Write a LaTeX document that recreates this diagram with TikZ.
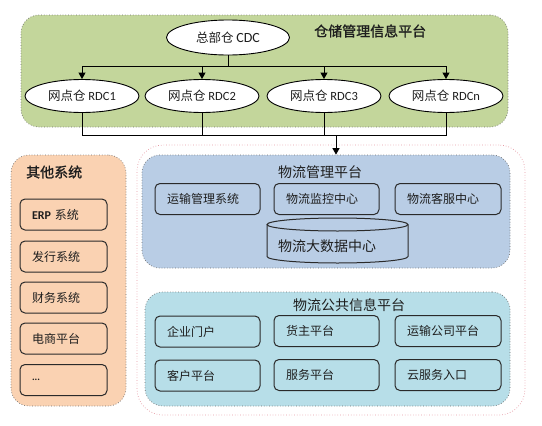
\documentclass[tikz,border=0pt]{standalone}
\usepackage{fontspec}
\setmainfont{Carlito}
\newfontfamily\cjk{Noto Sans CJK SC}
\newfontfamily\cjkb{Noto Sans CJK SC}[FakeBold=1.2]
\newfontfamily\lat{Carlito}
\usetikzlibrary{shapes.geometric,arrows.meta}
\definecolor{gfill}{HTML}{C3D69B}
\definecolor{ofill}{HTML}{FAD2B2}
\definecolor{bfill}{HTML}{B9CDE5}
\definecolor{lbfill}{HTML}{B7DEE8}
\definecolor{pinkline}{HTML}{E59AA4}
\definecolor{frameline}{HTML}{6E6E6E}
\definecolor{boxline}{HTML}{2A2A2A}
\definecolor{txt}{HTML}{1E1E1E}
\begin{document}
\begin{tikzpicture}[x=1pt,y=-1pt,
  container/.style={draw=frameline, dotted, line width=0.7pt, rounded corners=18pt, inner sep=0pt},
  sub/.style={draw=boxline, line width=1pt, rounded corners=5pt, minimum height=31pt,
    inner xsep=12pt, inner ysep=0pt, align=left, text=txt,
    font=\cjk\fontsize{12}{14}\selectfont},
  oval/.style={ellipse, draw=black, fill=white, line width=0.9pt, inner sep=0pt, text=txt,
    font=\cjk\fontsize{12.5}{14}\selectfont},
  ptitle/.style={inner sep=0pt, text=txt, font=\cjk\fontsize{14}{16}\selectfont},
  btitle/.style={inner sep=0pt, text=txt, font=\cjkb\fontsize{14}{16}\selectfont},
  conn/.style={draw=black, line width=0.9pt},
  arr/.style={conn, -{Triangle[length=6.5pt,width=7pt]}}
]
\useasboundingbox (0,0) rectangle (542,426);

% warehouse platform
\node[container, fill=gfill, minimum width=487pt, minimum height=112pt] (wms) at (264.5,71) {};
\node[btitle, anchor=west] (wmstitle) at (314,31) {仓储管理信息平台};
\node[oval, minimum width=123pt, minimum height=35pt] (cdc) at (228,37.5) {总部仓 {\lat\fontsize{14}{16}\selectfont CDC}};
\node[oval, minimum width=114pt, minimum height=33pt] (r1) at (82,96) {网点仓 {\lat RDC1}};
\node[oval, minimum width=114pt, minimum height=33pt] (r2) at (202,96) {网点仓 {\lat RDC2}};
\node[oval, minimum width=114pt, minimum height=33pt] (r3) at (324,96) {网点仓 {\lat RDC3}};
\node[oval, minimum width=114pt, minimum height=33pt] (rn) at (446,96) {网点仓 {\lat RDCn}};

% other systems
\node[container, fill=ofill, minimum width=115pt, minimum height=251pt] (other) at (68.5,280.5) {};
\node[btitle, anchor=west] (othertitle) at (26,172) {其他系统};
\node[sub, text width=63pt] (erp) at (63.5,214.5) {{\lat\bfseries ERP} 系统};
\node[sub, text width=63pt] (fx) at (63.5,256.5) {发行系统};
\node[sub, text width=63pt] (cw) at (63.5,297.5) {财务系统};
\node[sub, text width=63pt] (ds) at (63.5,338.5) {电商平台};
\node[sub, text width=63pt] (more) at (63.5,380) {{\lat\bfseries\fontsize{10}{12}\selectfont ...}};

% logistics area
\node[draw=pinkline, dotted, line width=0.7pt, rounded corners=26pt, inner sep=0pt,
  minimum width=388pt, minimum height=270pt] (area) at (331,280) {};

\node[container, fill=bfill, minimum width=368pt, minimum height=113pt] (mgmt) at (326,211.5) {};
\node[ptitle] (mgmttitle) at (320,172) {物流管理平台};
\node[sub, text width=81pt] (ys) at (207.5,199) {运输管理系统};
\node[sub, text width=81pt] (jk) at (326.5,199) {物流监控中心};
\node[sub, text width=82pt] (kf) at (448,199) {物流客服中心};
% cylinder
\fill[bfill] (267,224.5) -- (267,256.5) arc[start angle=180, end angle=0, x radius=70.5, y radius=6.5] -- (408,224.5) -- cycle;
\draw[boxline, line width=1pt] (267,224.5) -- (267,256.5) arc[start angle=180, end angle=0, x radius=70.5, y radius=6.5] -- (408,224.5);
\draw[boxline, line width=1pt] (337.5,224.5) ellipse[x radius=70.5, y radius=6.5];
\node[ptitle, anchor=west] (bigdata) at (278,246) {物流大数据中心};

\node[container, fill=lbfill, minimum width=365pt, minimum height=114pt] (pub) at (327.5,349) {};
\node[ptitle] (pubtitle) at (349,305) {物流公共信息平台};
\node[sub, text width=81pt] (qy) at (207.5,331.5) {企业门户};
\node[sub, text width=81pt] (hz) at (326.5,331) {货主平台};
\node[sub, text width=82pt] (gs) at (448,331) {运输公司平台};
\node[sub, text width=81pt] (kh) at (207.5,375.5) {客户平台};
\node[sub, text width=81pt] (fw) at (326.5,375) {服务平台};
\node[sub, text width=82pt] (yfw) at (448,375) {云服务入口};

% connectors
\coordinate (hub1) at (228,66);
\coordinate (hub2) at (336,135);
\draw[conn] (cdc.south) -- (hub1);
\draw[conn] (r1.north |- hub1) -- (rn.north |- hub1);
\draw[arr] (r1.north |- hub1) -- (r1.north);
\draw[arr] (r2.north |- hub1) -- (r2.north);
\draw[arr] (r3.north |- hub1) -- (r3.north);
\draw[arr] (rn.north |- hub1) -- (rn.north);
\draw[conn] (r1.south) -- (r1.south |- hub2) -- (rn.south |- hub2) -- (rn.south);
\draw[conn] (r2.south) -- (r2.south |- hub2);
\draw[conn] (r3.south) -- (r3.south |- hub2);
\draw[arr] (hub2) -- (mgmt.north -| hub2);
\end{tikzpicture}
\end{document}
